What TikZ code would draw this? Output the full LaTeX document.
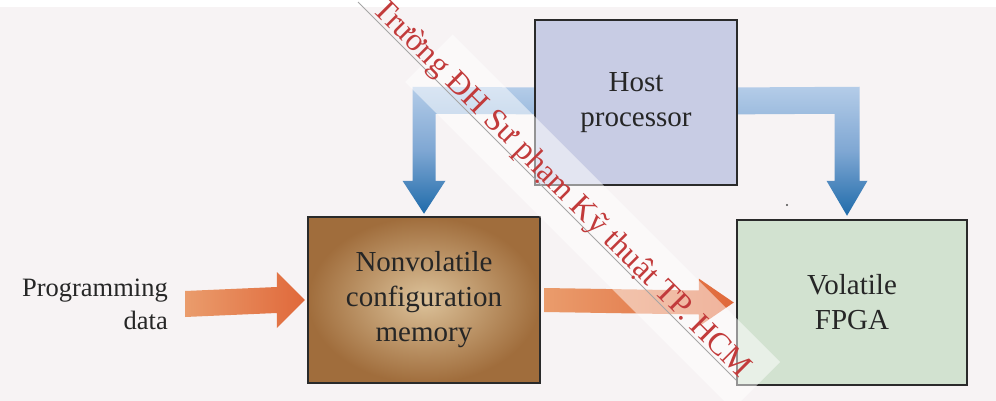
\documentclass[tikz,border=0pt]{standalone}
\usepackage{fontspec}
\setmainfont{Liberation Serif}
\usetikzlibrary{calc}

\definecolor{paper}{HTML}{F7F3F4}
\definecolor{boxline}{HTML}{2A2A2A}
\definecolor{hostfill}{HTML}{C8CCE4}
\definecolor{fpgafill}{HTML}{D2E2D0}
\definecolor{memin}{HTML}{DCC29A}
\definecolor{memout}{HTML}{A06D3C}
\definecolor{orlight}{HTML}{EA9C6C}
\definecolor{ordark}{HTML}{E0683A}
\definecolor{bluelight}{HTML}{B4CCE8}
\definecolor{bluemid}{HTML}{7FA7D3}
\definecolor{bluedark}{HTML}{1F6BAA}
\definecolor{stamp}{HTML}{C23B3B}

\pgfdeclarelayer{paperlayer}
\pgfdeclarelayer{arrowlayer}
\pgfsetlayers{paperlayer,arrowlayer,main}

\tikzset{
  blk/.style={draw=boxline, line width=2.5pt, align=center, text=black!85,
    font=\fontsize{29}{35}\selectfont, inner sep=0pt},
  lbl/.style={align=right, text=black!85, font=\fontsize{26.5}{33}\selectfont, inner sep=0pt},
  orangearrow/.style={left color=orlight, right color=ordark},
  bluearrow/.style={top color=bluelight, bottom color=bluedark, middle color=bluemid},
}

\begin{document}
\begin{tikzpicture}[x=1pt,y=-1pt]
\useasboundingbox (0,0) rectangle (996,401);

% paper
\begin{pgfonlayer}{paperlayer}
  \fill[paper] (0,0) rectangle (996,401);
  \fill[white] (0,0) rectangle (996,7);
\end{pgfonlayer}

% blocks
\node[blk, fill=hostfill, minimum width=202pt, minimum height=165pt] (host) at (636,102.5) {Host\\processor};
\node[blk, shading=radial, inner color=memin, outer color=memout,
      minimum width=232pt, minimum height=166pt] (mem) at (424,300) {Nonvolatile\\configuration\\memory};
\node[blk, fill=fpgafill, minimum width=230pt, minimum height=165pt] (fpga) at (852,302.5) {Volatile\\FPGA};
\node[lbl, anchor=east] (prog) at (168,304) {Programming\\data};

% arrow anchor points
\coordinate (pa) at ($(prog.east)+(17,0)$);
\coordinate (pb) at ($(mem.west)+(-2,0)$);
\coordinate (ma) at ($(mem.east)+(3,0)$);
\coordinate (mb) at ($(fpga.west)+(-2,0)$);
\coordinate (tl) at ($(mem.north)+(0,-2)$);
\coordinate (tr) at ($(fpga.north)+(-5,-3)$);

\begin{pgfonlayer}{arrowlayer}
  % programming data -> memory
  \shade[orangearrow] ($(pa)+(0,-13)$) -- ($(pb)+(-28,-13)$) -- ($(pb)+(-28,-28)$) -- (pb)
      -- ($(pb)+(-28,28)$) -- ($(pb)+(-28,13)$) -- ($(pa)+(0,13)$) -- cycle;
  % memory -> FPGA
  \shade[orangearrow] ($(ma)+(0,-12)$) -- ($(mb)+(-35,-12)$) -- ($(mb)+(-35,-24)$) -- (mb)
      -- ($(mb)+(-35,24)$) -- ($(mb)+(-35,12)$) -- ($(ma)+(0,12)$) -- cycle;
  % host -> memory
  \shade[bluearrow] ($(tl)+(-11.5,-127)$) -- ($(host.center)+(0,-14.5)$) -- ($(host.center)+(0,12.5)$)
      -- ($(tl)+(11.5,-100)$) -- ($(tl)+(11.5,-33)$) -- ($(tl)+(21.5,-33)$) -- (tl)
      -- ($(tl)+(-21.5,-33)$) -- ($(tl)+(-11.5,-33)$) -- cycle;
  % host -> FPGA
  \shade[bluearrow] ($(host.center)+(0,-14.5)$) -- ($(tr)+(12.5,-129)$) -- ($(tr)+(12.5,-35)$)
      -- ($(tr)+(20.5,-35)$) -- (tr) -- ($(tr)+(-20.5,-35)$) -- ($(tr)+(-12.5,-35)$)
      -- ($(tr)+(-12.5,-102)$) -- ($(host.center)+(0,12.5)$) -- cycle;
\end{pgfonlayer}

% small speck
\fill[black!70] (787,205) circle (1.2);

% diagonal stamp
\fill[white, opacity=0.5] (405,82) -- (452.5,34.5) -- (780,362) -- (732.5,409.5) -- cycle;
\draw[gray!70, line width=0.9pt] (358,2) -- (736,380);
\node[text=stamp, rotate=-45, font=\fontsize{32}{36}\selectfont, inner sep=0pt] (stamp) at (561,189)
  {Trường ĐH Sư phạm Kỹ thuật TP. HCM};
\end{tikzpicture}
\end{document}
